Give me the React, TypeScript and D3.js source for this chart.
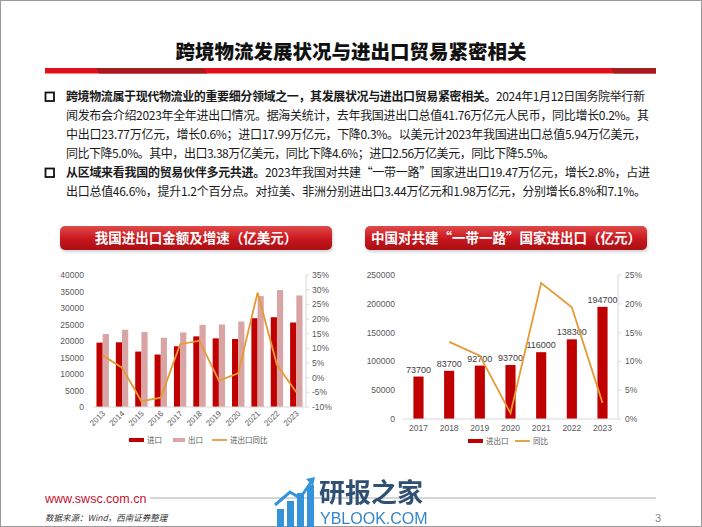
import * as d3 from 'd3'

// 我国进出口金额及增速（亿美元）
const years1 = ['2013', '2014', '2015', '2016', '2017', '2018', '2019', '2020', '2021', '2022', '2023']
const imports1 = [19500, 19600, 16800, 15900, 18400, 21400, 20800, 20600, 26900, 27200, 25600]
const exports1 = [22100, 23400, 22700, 21000, 22600, 24900, 25000, 25900, 33600, 35400, 33800]
const growth1 = [7.6, 3.4, -8.0, -6.8, 11.4, 12.6, -1.0, 1.5, 29.0, 4.4, -5.0]
const leftTicks1 = [0, 5000, 10000, 15000, 20000, 25000, 30000, 35000, 40000]
const rightTicks1 = [-10, -5, 0, 5, 10, 15, 20, 25, 30, 35]

// 中国对共建“一带一路”国家进出口（亿元）
const years2 = ['2017', '2018', '2019', '2020', '2021', '2022', '2023']
const trade2 = [73700, 83700, 92700, 93700, 116000, 138300, 194700]
const yoy2: (number | null)[] = [null, 13.4, 11.0, 1.0, 23.6, 19.4, 2.8]
const leftTicks2 = [0, 50000, 100000, 150000, 200000, 250000]
const rightTicks2 = [0, 5, 10, 15, 20, 25]

const paragraph = [
  { y: 97, bullet: true, end: 645, parts: [{ t: '跨境物流属于现代物流业的重要细分领域之一，其发展状况与进出口贸易紧密相关。', b: true }, { t: '2024年1月12日国务院举行新' }] },
  { y: 116, end: 649, parts: [{ t: '闻发布会介绍2023年全年进出口情况。据海关统计，去年我国进出口总值41.76万亿元人民币，同比增长0.2%。其' }] },
  { y: 135, end: 646, parts: [{ t: '中出口23.77万亿元，增长0.6%；进口17.99万亿元，下降0.3%。以美元计2023年我国进出口总值5.94万亿美元，' }] },
  { y: 154, end: 555, parts: [{ t: '同比下降5.0%。其中，出口3.38万亿美元，同比下降4.6%；进口2.56万亿美元，同比下降5.5%。' }] },
  { y: 173, bullet: true, end: 650, parts: [{ t: '从区域来看我国的贸易伙伴多元共进。', b: true }, { t: '2023年我国对共建“一带一路”国家进出口19.47万亿元，增长2.8%，占进' }] },
  { y: 192, end: 646, parts: [{ t: '出口总值46.6%，提升1.2个百分点。对拉美、非洲分别进出口3.44万亿元和1.98万亿元，分别增长6.8%和7.1%。' }] },
]

const CJK = '"Noto Sans CJK SC", "Noto Sans", sans-serif'
const NUM = '"Liberation Sans", Arial, sans-serif'
const RED = '#c00000'
const PINK = '#d9a4a4'
const ORANGE = '#e69a36'
const AXIS = '#d9d9d9'
const LABEL = '#595959'

function Header({ x, y, w, h, text }: { x: number; y: number; w: number; h: number; text: string }) {
  return (
    <g>
      <rect x={x + 1} y={y + 2} width={w} height={h} rx={5} fill="#000" opacity={0.18} filter="url(#blur)" />
      <rect x={x} y={y} width={w} height={h} rx={5} fill="url(#hdr)" />
      <text x={x + w / 2} y={y + h / 2 + 5} textAnchor="middle" fill="#fff" fontFamily={CJK} fontWeight={700} fontSize={13.5}>
        {text}
      </text>
    </g>
  )
}

function LeftChart() {
  const x = d3.scaleBand<string>().domain(years1).range([93, 306]).paddingInner(0.36).paddingOuter(0.18)
  const sub = d3.scaleBand<string>().domain(['imp', 'exp']).range([0, x.bandwidth()])
  const y = d3.scaleLinear().domain([0, 40000]).range([407, 275])
  const y2 = d3.scaleLinear().domain([-10, 35]).range([407, 275])
  const cx = (d: string) => (x(d) ?? 0) + x.bandwidth() / 2
  const line = d3.line<number>().x((_, i) => cx(years1[i])).y(d => y2(d))
  return (
    <g>
      <Header x={60} y={226} w={272} h={24} text="我国进出口金额及增速（亿美元）" />
      {leftTicks1.map(t => (
        <text key={t} x={84} y={y(t) + 3} textAnchor="end" fontFamily={NUM} fontSize={8.5} fill={LABEL}>{t}</text>
      ))}
      {rightTicks1.map(t => (
        <g key={t}>
          <line x1={306} x2={309} y1={y2(t)} y2={y2(t)} stroke={AXIS} />
          <text x={312} y={y2(t) + 3} fontFamily={NUM} fontSize={8.5} fill={LABEL}>{t}%</text>
        </g>
      ))}
      <line x1={306} x2={306} y1={275} y2={407} stroke={AXIS} />
      {years1.map((d, i) => (
        <g key={d}>
          <rect x={(x(d) ?? 0) + (sub('imp') ?? 0)} y={y(imports1[i])} width={sub.bandwidth()} height={407 - y(imports1[i])} fill={RED} />
          <rect x={(x(d) ?? 0) + (sub('exp') ?? 0)} y={y(exports1[i])} width={sub.bandwidth()} height={407 - y(exports1[i])} fill={PINK} />
          <text transform={`translate(${cx(d) + 3},${414}) rotate(-45)`} textAnchor="end" fontFamily={NUM} fontSize={8} fill={LABEL}>{d}</text>
        </g>
      ))}
      <line x1={93} x2={306} y1={407} y2={407} stroke={AXIS} />
      <path d={line(growth1) ?? ''} fill="none" stroke={ORANGE} strokeWidth={1.8} />
      <rect x={129} y={438} width={15} height={4} fill={RED} />
      <text x={147} y={443} fontFamily={CJK} fontSize={7.5} fill={LABEL}>进口</text>
      <rect x={173} y={438} width={12} height={4} fill={PINK} />
      <text x={188} y={443} fontFamily={CJK} fontSize={7.5} fill={LABEL}>出口</text>
      <line x1={212} x2={227} y1={440} y2={440} stroke={ORANGE} strokeWidth={1.8} />
      <text x={230} y={443} fontFamily={CJK} fontSize={7.5} fill={LABEL}>进出口同比</text>
    </g>
  )
}

function RightChart() {
  const x = d3.scaleBand<string>().domain(years2).range([403, 618]).padding(0.67).paddingOuter(0.34)
  const y = d3.scaleLinear().domain([0, 250000]).range([419, 275])
  const y2 = d3.scaleLinear().domain([0, 25]).range([419, 275])
  const cx = (d: string) => (x(d) ?? 0) + x.bandwidth() / 2
  const line = d3.line<number | null>().defined(d => d !== null).x((_, i) => cx(years2[i])).y(d => y2(d as number))
  return (
    <g>
      <Header x={365} y={226} w={282} h={24} text="中国对共建“一带一路”国家进出口（亿元）" />
      {leftTicks2.map(t => (
        <text key={t} x={395} y={y(t) + 3} textAnchor="end" fontFamily={NUM} fontSize={8.5} fill={LABEL}>{t}</text>
      ))}
      {rightTicks2.map(t => (
        <g key={t}>
          <line x1={618} x2={621} y1={y2(t)} y2={y2(t)} stroke={AXIS} />
          <text x={625} y={y2(t) + 3} fontFamily={NUM} fontSize={8.5} fill={LABEL}>{t}%</text>
        </g>
      ))}
      <line x1={618} x2={618} y1={275} y2={419} stroke={AXIS} />
      {years2.map((d, i) => (
        <g key={d}>
          <rect x={x(d)} y={y(trade2[i])} width={x.bandwidth()} height={419 - y(trade2[i])} fill={RED} />
          <text x={cx(d)} y={y(trade2[i]) - 4} textAnchor="middle" fontFamily={NUM} fontSize={9} fill="#404040">{trade2[i]}</text>
          <text x={cx(d)} y={431} textAnchor="middle" fontFamily={NUM} fontSize={8.5} fill={LABEL}>{d}</text>
        </g>
      ))}
      <line x1={403} x2={618} y1={419} y2={419} stroke={AXIS} />
      <path d={line(yoy2) ?? ''} fill="none" stroke={ORANGE} strokeWidth={1.8} />
      <rect x={468} y={439} width={15} height={4} fill={RED} />
      <text x={486} y={444} fontFamily={CJK} fontSize={7.5} fill={LABEL}>进出口</text>
      <line x1={515} x2={530} y1={441} y2={441} stroke={ORANGE} strokeWidth={1.8} />
      <text x={533} y={444} fontFamily={CJK} fontSize={7.5} fill={LABEL}>同比</text>
    </g>
  )
}

export default function App() {
  return (
    <svg width={702} height={527} style={{ position: 'absolute', left: 0, top: 0, background: '#fff' }}>
      <defs>
        <linearGradient id="hdr" x1="0" y1="0" x2="0" y2="1">
          <stop offset="0%" stopColor="#e04a4a" />
          <stop offset="55%" stopColor="#c8161d" />
          <stop offset="100%" stopColor="#a80f14" />
        </linearGradient>
        <filter id="blur"><feGaussianBlur stdDeviation="1.5" /></filter>
      </defs>
      <rect x={0.5} y={0.5} width={701} height={526} fill="#fff" stroke="#9a9a9a" />

      <text x={351} y={59} textAnchor="middle" fontFamily={CJK} fontWeight={900} fontSize={19.5} fill="#111">
        跨境物流发展状况与进出口贸易紧密相关
      </text>
      <rect x={45} y={68} width={611} height={5.5} fill="#e3101c" />
      <path d="M96,68 L203,68 L207,73.5 L99,73.5 Z" fill="#a51c20" />
      <path d="M611,68 L656,68 L656,73.5 L614,73.5 Z" fill="#a51c20" />

      {paragraph.map((l, i) => (
        <g key={i}>
          {l.bullet && <rect x={45.5} y={l.y - 4.5} width={8.5} height={8.5} fill="none" stroke="#111" strokeWidth={1.8} />}
          <text x={66} y={l.y + 4.3} fontFamily={CJK} fontSize={12} fill="#1a1a1a" textLength={l.end - 66} lengthAdjust="spacing">
            {l.parts.map((p, j) => (
              <tspan key={j} fontWeight={p.b ? 700 : 400}>{p.t}</tspan>
            ))}
          </text>
        </g>
      ))}

      <LeftChart />
      <RightChart />

      <line x1={150} x2={656} y1={498} y2={498} stroke="#c8c8c8" strokeWidth={1.5} />
      <text x={45} y={503} fontFamily={NUM} fontSize={12.5} fill="#c8102e">www.swsc.com.cn</text>
      <text x={45} y={521} fontFamily={CJK} fontStyle="italic" fontSize={8.5} fill="#333">数据来源：Wind，西南证券整理</text>
      <text x={655} y={522} fontFamily={NUM} fontSize={11} fill="#888">3</text>

      <g opacity={0.95}>
        <rect x={277} y={509} width={7} height={18} fill="#2b8fd8" />
        <rect x={287} y={501} width={7} height={26} fill="#2b8fd8" />
        <rect x={297} y={493} width={7} height={34} fill="#2b8fd8" />
        <rect x={307} y={485} width={7} height={42} fill="#2b8fd8" />
        <path d="M275,505 L290,492 L300,498 L312,481" fill="none" stroke="#2b8fd8" strokeWidth={3} />
        <path d="M306,479 L315,477 L313,486 Z" fill="#2b8fd8" />
        <text x={319} y={502} fontFamily={CJK} fontWeight={700} fontSize={26} fill="#24476b">研报之家</text>
        <text x={320} y={524} fontFamily={NUM} fontSize={16} fill="#2b7fc4">YBLOOK.COM</text>
      </g>
    </svg>
  )
}
